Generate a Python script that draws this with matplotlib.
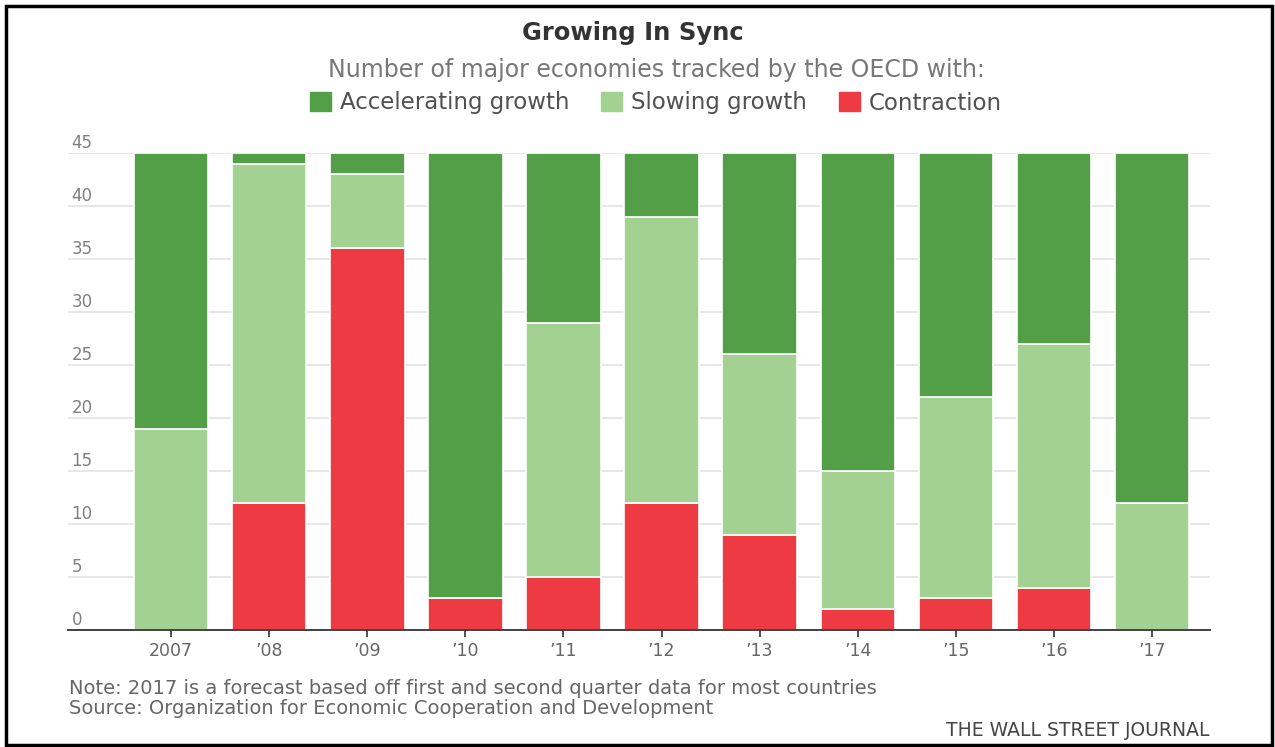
import matplotlib.pyplot as plt
from matplotlib.patches import Patch, Rectangle

years = ["2007", "\u201908", "\u201909", "\u201910", "\u201911", "\u201912",
         "\u201913", "\u201914", "\u201915", "\u201916", "\u201917"]
contraction = [0, 12, 36, 3, 5, 12, 9, 2, 3, 4, 0]
slowing = [19, 32, 7, 0, 24, 27, 17, 13, 19, 23, 12]
accelerating = [26, 1, 2, 42, 16, 6, 19, 30, 23, 18, 33]
y_ticks = [0, 5, 10, 15, 20, 25, 30, 35, 40, 45]

DARK_GREEN = "#539f48"
LIGHT_GREEN = "#a2d192"
RED = "#ee3a43"
GREY_TEXT = "#666666"

plt.rcParams["font.family"] = ["DejaVu Sans"]

fig = plt.figure(figsize=(12.75, 7.47), dpi=100)
ax = fig.add_axes([68 / 1275, 1 - 630 / 747, (1210 - 68) / 1275, (630 - 153) / 747])

x = list(range(len(years)))
bottom2 = [c + s for c, s in zip(contraction, slowing)]
kw = dict(width=0.76, edgecolor="white", linewidth=1.2, zorder=3)
ax.bar(x, contraction, color=RED, **kw)
ax.bar(x, slowing, bottom=contraction, color=LIGHT_GREEN, **kw)
ax.bar(x, accelerating, bottom=bottom2, color=DARK_GREEN, **kw)

ax.set_xlim(-1.05, 10.59)
ax.set_ylim(0, 45)
for v in y_ticks[1:]:
    ax.axhline(v, color="#e3e3e3", lw=1.2, zorder=1)
for v in y_ticks:
    ax.text(0.003, v + 0.12, str(v), transform=ax.get_yaxis_transform(),
            ha="left", va="bottom", fontsize=12, color="#808080")

ax.set_yticks([])
ax.set_xticks(x)
ax.set_xticklabels(years, fontsize=12.5, color=GREY_TEXT)
ax.tick_params(axis="x", length=5, width=1.2, color="#333333", pad=4)
for s in ["top", "right", "left"]:
    ax.spines[s].set_visible(False)
ax.spines["bottom"].set_color("#333333")
ax.spines["bottom"].set_linewidth(1.3)
ax.spines["bottom"].set_zorder(4)

fig.text(633 / 1275, 1 - 33 / 747, "Growing In Sync", ha="center", va="center",
         fontsize=17.5, fontweight="bold", color="#333333")
fig.text(656 / 1275, 1 - 70 / 747, "Number of major economies tracked by the OECD with:",
         ha="center", va="center", fontsize=17, color="#777777")

handles = [Patch(color=DARK_GREEN, label="Accelerating growth"),
           Patch(color=LIGHT_GREEN, label="Slowing growth"),
           Patch(color=RED, label="Contraction")]
fig.legend(handles=handles, loc="center", bbox_to_anchor=(656 / 1275, 1 - 103 / 747),
           ncol=3, frameon=False, fontsize=16.5, handlelength=0.9, handleheight=0.9,
           handletextpad=0.4, columnspacing=1.4, labelcolor="#505050")

fig.text(69 / 1275, 1 - 688 / 747,
         "Note: 2017 is a forecast based off first and second quarter data for most countries",
         ha="left", va="center", fontsize=14, color=GREY_TEXT)
fig.text(69 / 1275, 1 - 709 / 747, "Source: Organization for Economic Cooperation and Development",
         ha="left", va="center", fontsize=14, color=GREY_TEXT)
fig.text(1209 / 1275, 1 - 731 / 747, "THE WALL STREET JOURNAL",
         ha="right", va="center", fontsize=13.5, color="#444444")

# outer frame
fig.patches.append(Rectangle((6 / 1275, 2 / 747), 1266 / 1275, 739 / 747,
                             transform=fig.transFigure, fill=False,
                             edgecolor="black", linewidth=2.5))

fig.savefig("out.png", dpi=100)
